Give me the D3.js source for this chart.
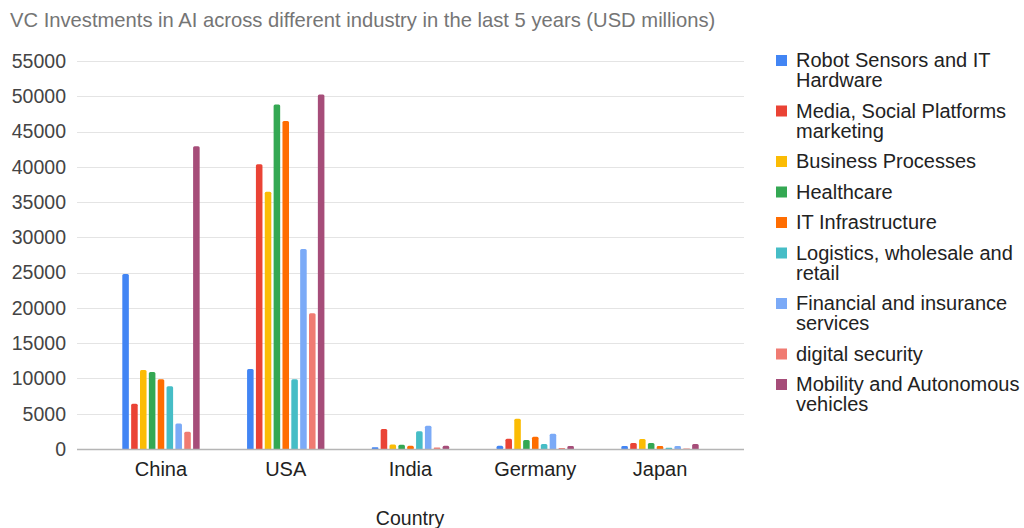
<!DOCTYPE html>
<html lang="en">
<head>
<meta charset="UTF-8">
<title>VC Investments in AI</title>
<script src="https://d3js.org/d3.v7.min.js"></script>
<style>
    body { margin: 0; background: #fff; }
    text { font-family: "Liberation Sans", Arial, sans-serif; }
    .grid line { stroke: #e4e4e4; stroke-width: 1px; }
    .baseline { stroke: #b5b5b5; stroke-width: 1.3px; }
</style>
</head>
<body>
<script>
    // data
    const countries = ["China", "USA", "India", "Germany", "Japan"];
    const industries = [
        "Robot Sensors and IT Hardware",
        "Media, Social Platforms marketing",
        "Business Processes",
        "Healthcare",
        "IT Infrastructure",
        "Logistics, wholesale and retail",
        "Financial and insurance services",
        "digital security",
        "Mobility and Autonomous vehicles"
    ];
    // legend rows as wrapped in the original
    const legendLines = [
        ["Robot Sensors and IT", "Hardware"],
        ["Media, Social Platforms", "marketing"],
        ["Business Processes"],
        ["Healthcare"],
        ["IT Infrastructure"],
        ["Logistics, wholesale and", "retail"],
        ["Financial and insurance", "services"],
        ["digital security"],
        ["Mobility and Autonomous", "vehicles"]
    ];
    // one array per industry, in country order
    const robotSensors = [24800, 11350, 250, 470, 420];
    const mediaSocial = [6400, 40350, 2850, 1450, 850];
    const businessProc = [11200, 36450, 650, 4300, 1400];
    const healthcare = [10900, 48850, 600, 1270, 850];
    const itInfra = [9900, 46500, 450, 1750, 420];
    const logistics = [8900, 9900, 2500, 700, 180];
    const financial = [3600, 28350, 3300, 2150, 420];
    const digitalSec = [2450, 19250, 200, 150, 60];
    const mobility = [42900, 50250, 450, 420, 700];
    const seriesValues = [robotSensors, mediaSocial, businessProc, healthcare, itInfra,
        logistics, financial, digitalSec, mobility];
    const yTicks = [0, 5000, 10000, 15000, 20000, 25000, 30000, 35000, 40000, 45000, 50000, 55000];

    const colors = ["#4285f4", "#ea4335", "#fbbc04", "#34a853", "#ff6d01",
        "#46bdc6", "#7baaf7", "#f07b72", "#a64d79"];

    const W = 1024, H = 528;
    const svg = d3.select("body").append("svg")
        .attr("width", W)
        .attr("height", H);

    const gridLeft = 77, gridRight = 744;
    const y = d3.scaleLinear().domain([0, 55000]).range([449, 61]);
    const x0 = d3.scaleBand().domain(countries).range([98.6, 722.4]);
    const bw = x0.bandwidth();
    const x1 = d3.scaleBand().domain(d3.range(industries.length))
        .range([bw * 0.19, bw * 0.81]).paddingInner(0.26);

    // title
    svg.append("text")
        .attr("x", 10).attr("y", 27)
        .attr("fill", "#757575")
        .style("font-size", "20.2px")
        .text("VC Investments in AI across different industry in the last 5 years (USD millions)");

    // gridlines
    svg.append("g").attr("class", "grid")
        .selectAll("line")
        .data(yTicks.slice(1))
        .join("line")
        .attr("x1", gridLeft).attr("x2", gridRight)
        .attr("y1", d => Math.round(y(d)) + 0.5)
        .attr("y2", d => Math.round(y(d)) + 0.5);

    // y axis labels
    svg.append("g")
        .selectAll("text")
        .data(yTicks)
        .join("text")
        .attr("x", 66)
        .attr("y", d => y(d))
        .attr("dy", "0.35em")
        .attr("text-anchor", "end")
        .attr("fill", "#444")
        .style("font-size", "19.5px")
        .text(d => d);

    // bars
    const groups = svg.append("g")
        .selectAll("g")
        .data(countries)
        .join("g")
        .attr("transform", d => `translate(${x0(d)},0)`);

    groups.selectAll("path")
        .data((c, ci) => seriesValues.map((vals, si) => ({ si: si, v: vals[ci] })))
        .join("path")
        .attr("fill", d => colors[d.si])
        .attr("d", d => {
            const bx = x1(d.si), w = x1.bandwidth();
            const top = y(d.v), base = y(0);
            const r = Math.min(1.5, (base - top) / 2);
            return `M${bx},${base} V${top + r} Q${bx},${top} ${bx + r},${top} H${bx + w - r} Q${bx + w},${top} ${bx + w},${top + r} V${base} Z`;
        });

    // baseline
    svg.append("line").attr("class", "baseline")
        .attr("x1", gridLeft).attr("x2", gridRight)
        .attr("y1", y(0) + 0.5).attr("y2", y(0) + 0.5);

    // x axis labels
    svg.append("g")
        .selectAll("text")
        .data(countries)
        .join("text")
        .attr("x", d => x0(d) + bw / 2)
        .attr("y", 476)
        .attr("text-anchor", "middle")
        .attr("fill", "#222")
        .style("font-size", "20px")
        .text(d => d);

    svg.append("text")
        .attr("x", 410).attr("y", 525)
        .attr("text-anchor", "middle")
        .attr("fill", "#222")
        .style("font-size", "19.5px")
        .text("Country");

    // legend
    const rowTops = [];
    let yy = 60;
    legendLines.forEach(lines => {
        rowTops.push(yy);
        yy += lines.length === 2 ? 50.5 : 30.5;
    });

    const legend = svg.append("g")
        .selectAll("g")
        .data(legendLines)
        .join("g")
        .attr("transform", (d, i) => `translate(776,${rowTops[i]})`);

    legend.append("rect")
        .attr("x", 0).attr("y", -5)
        .attr("width", 11).attr("height", 11)
        .attr("fill", (d, i) => colors[i]);

    legend.append("text")
        .attr("x", 20)
        .attr("fill", "#222")
        .style("font-size", "20px")
        .selectAll("tspan")
        .data(d => d)
        .join("tspan")
        .attr("x", 20)
        .attr("y", (d, i) => i * 20)
        .attr("dy", "0.35em")
        .text(d => d);
</script>
</body>
</html>
